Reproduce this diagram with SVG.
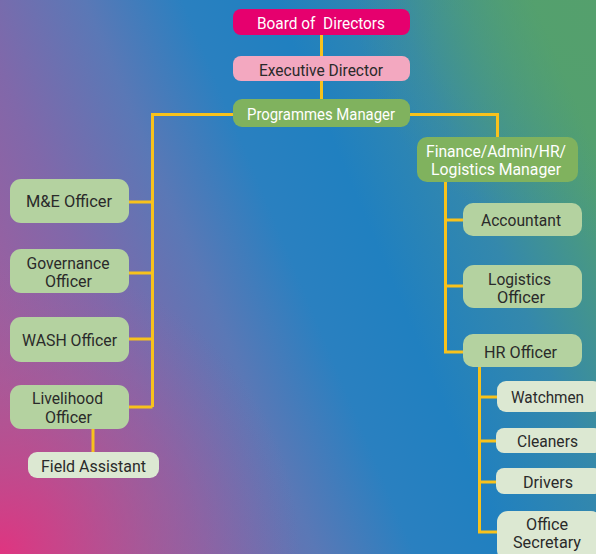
<svg xmlns="http://www.w3.org/2000/svg" width="596" height="554" viewBox="0 0 596 554">
<defs>
<linearGradient id="bg" gradientUnits="userSpaceOnUse" x1="0" y1="400" x2="596" y2="150">
<stop offset="0" stop-color="#a55c9c"/>
<stop offset="0.2" stop-color="#8068aa"/>
<stop offset="0.36" stop-color="#5a78b6"/>
<stop offset="0.5" stop-color="#2a80c0"/>
<stop offset="0.63" stop-color="#2080c0"/>
<stop offset="0.8" stop-color="#3488ac"/>
<stop offset="1" stop-color="#52a070"/>
</linearGradient>
<radialGradient id="pink" gradientUnits="userSpaceOnUse" cx="0" cy="554" r="300">
<stop offset="0" stop-color="#e03480" stop-opacity="1"/>
<stop offset="0.5" stop-color="#b8508e" stop-opacity="0.5"/>
<stop offset="1" stop-color="#9a62a0" stop-opacity="0"/>
</radialGradient>
<radialGradient id="green" gradientUnits="userSpaceOnUse" cx="596" cy="0" r="240">
<stop offset="0" stop-color="#55a06c" stop-opacity="0.8"/>
<stop offset="1" stop-color="#55a06c" stop-opacity="0"/>
</radialGradient>
</defs>
<style>
.c{stroke:#f8c21c;stroke-width:3;fill:none}
.t{font-family:Roboto,"Liberation Sans",sans-serif;font-size:16px;text-anchor:middle}
.w{fill:#ffffff}
.d{fill:#2a2a2a}
.g1{fill:#80b25e}
.g2{fill:#b4d2a0}
.g3{fill:#dce8d2}
</style>
<rect x="0" y="0" width="596" height="554" fill="url(#bg)"/>
<rect x="0" y="0" width="596" height="554" fill="url(#pink)"/>
<rect x="0" y="0" width="596" height="554" fill="url(#green)"/>
<g id="connectors">
<path class="c" d="M321.5 35V56M321.5 81V99"/>
<path class="c" d="M233 114.5H152.5V407M129 202H152.5M129 273H152.5M129 339H152.5M129 407H152.5"/>
<path class="c" d="M93 429V453"/>
<path class="c" d="M410 114.5H497.5V137"/>
<path class="c" d="M445.5 182V352H463M445.5 220H463M445.5 286H463"/>
<path class="c" d="M479.5 367V532H498M479.5 397H498M479.5 441H498M479.5 482H498"/>
</g>
<g id="board"><rect x="233" y="9" width="177" height="26" rx="8" fill="#e6006e"/><text class="t w" x="321" y="29" textLength="128" lengthAdjust="spacingAndGlyphs" xml:space="preserve">Board of  Directors</text></g>
<g id="exec"><rect x="233" y="56" width="177" height="25" rx="8" fill="#f3a8c0"/><text class="t d" x="321" y="75.5" textLength="124" lengthAdjust="spacingAndGlyphs">Executive Director</text></g>
<g id="pm"><rect class="g1" x="233" y="99" width="177" height="28" rx="9"/><text class="t w" x="321" y="119.5" textLength="148" lengthAdjust="spacingAndGlyphs">Programmes Manager</text></g>
<g id="fin"><rect class="g1" x="417" y="137" width="161" height="45" rx="10"/><text class="t w" x="496" y="157" textLength="140" lengthAdjust="spacingAndGlyphs">Finance/Admin/HR/</text><text class="t w" x="496" y="175" textLength="130" lengthAdjust="spacingAndGlyphs">Logistics Manager</text></g>
<g id="me"><rect class="g2" x="10" y="179" width="119" height="44" rx="11"/><text class="t d" x="69" y="207" textLength="86" lengthAdjust="spacingAndGlyphs">M&amp;E Officer</text></g>
<g id="gov"><rect class="g2" x="10" y="249" width="119" height="44" rx="11"/><text class="t d" x="68" y="269" textLength="83" lengthAdjust="spacingAndGlyphs">Governance</text><text class="t d" x="68.5" y="286.5" textLength="47" lengthAdjust="spacingAndGlyphs">Officer</text></g>
<g id="wash"><rect class="g2" x="10" y="317" width="119" height="45" rx="11"/><text class="t d" x="69.5" y="345.5" textLength="95" lengthAdjust="spacingAndGlyphs">WASH Officer</text></g>
<g id="liv"><rect class="g2" x="10" y="385" width="119" height="44" rx="11"/><text class="t d" x="67.5" y="404" textLength="71" lengthAdjust="spacingAndGlyphs">Livelihood</text><text class="t d" x="68.5" y="422.5" textLength="47" lengthAdjust="spacingAndGlyphs">Officer</text></g>
<g id="field"><rect class="g3" x="28" y="452" width="131" height="26" rx="9"/><text class="t d" x="93.5" y="471.5" textLength="105" lengthAdjust="spacingAndGlyphs">Field Assistant</text></g>
<g id="acc"><rect class="g2" x="463" y="203" width="119" height="33" rx="10"/><text class="t d" x="521" y="226" textLength="80" lengthAdjust="spacingAndGlyphs">Accountant</text></g>
<g id="log"><rect class="g2" x="463" y="265" width="119" height="43" rx="11"/><text class="t d" x="519.5" y="284.5" textLength="63" lengthAdjust="spacingAndGlyphs">Logistics</text><text class="t d" x="521" y="302.5" textLength="48" lengthAdjust="spacingAndGlyphs">Officer</text></g>
<g id="hr"><rect class="g2" x="463" y="334" width="119" height="33" rx="10"/><text class="t d" x="520.5" y="358" textLength="73" lengthAdjust="spacingAndGlyphs">HR Officer</text></g>
<g id="watch"><rect class="g3" x="497" y="381" width="105" height="31" rx="9"/><text class="t d" x="547.5" y="402.5" textLength="73" lengthAdjust="spacingAndGlyphs">Watchmen</text></g>
<g id="clean"><rect class="g3" x="496" y="428" width="106" height="25" rx="8"/><text class="t d" x="547.5" y="446.5" textLength="61" lengthAdjust="spacingAndGlyphs">Cleaners</text></g>
<g id="drivers"><rect class="g3" x="496" y="468" width="106" height="26" rx="8"/><text class="t d" x="548" y="487.5" textLength="50" lengthAdjust="spacingAndGlyphs">Drivers</text></g>
<g id="sec"><rect class="g3" x="497" y="511" width="105" height="50" rx="11"/><text class="t d" x="547" y="530" textLength="42" lengthAdjust="spacingAndGlyphs">Office</text><text class="t d" x="547" y="548" textLength="68" lengthAdjust="spacingAndGlyphs">Secretary</text></g>
</svg>
